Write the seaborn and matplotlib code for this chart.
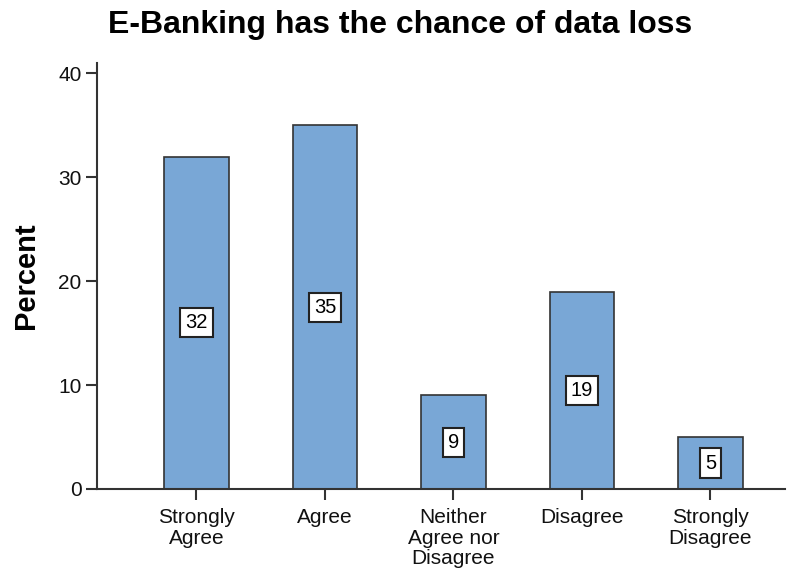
import matplotlib
matplotlib.use("Agg")
import matplotlib.pyplot as plt
import seaborn as sns
import pandas as pd

categories = ["Strongly\nAgree", "Agree", "Neither\nAgree nor\nDisagree", "Disagree", "Strongly\nDisagree"]
percent = [32, 35, 9, 19, 5]
yticks = [0, 10, 20, 30, 40]

sns.set_style("white")
plt.rcParams['font.family'] = ['Liberation Sans', 'DejaVu Sans']
plt.rcParams['text.color'] = 'black'

df = pd.DataFrame({"cat": categories, "pct": percent})

fig = plt.figure(figsize=(7.96, 5.71), dpi=100)
ax = fig.add_axes([97/796, 1 - 489/571, (785 - 97)/796, (489 - 63)/571])
sns.barplot(data=df, x="cat", y="pct", color="#79a7d6", saturation=1,
            width=0.5, edgecolor="#333333", linewidth=1.2, ax=ax)

ax.set_ylim(0, 41)
ax.set_xlim(-0.774, 4.58)
ax.set_yticks(yticks)
ax.set_yticklabels([str(t) for t in yticks], fontsize=15)
ax.tick_params(axis="x", bottom=True, labelsize=15, length=8, width=1.5, color="#333333",
               labelcolor="#111111", direction="out", pad=6)
ax.tick_params(axis="y", left=True, length=8, width=1.5, color="#333333",
               labelcolor="#111111", direction="out", pad=3)
for lab in ax.get_xticklabels():
    lab.set_linespacing(1.1)
ax.set_xlabel("")
ax.set_ylabel("Percent", fontsize=21, fontweight="bold", labelpad=13, color="black")
ax.spines["top"].set_visible(False)
ax.spines["right"].set_visible(False)
for s in ["left", "bottom"]:
    ax.spines[s].set_linewidth(1.5)
    ax.spines[s].set_color("#333333")

for i, v in enumerate(percent):
    ax.text(i, v / 2, str(v), ha="center", va="center", fontsize=14.5, color="black",
            bbox=dict(boxstyle="square,pad=0.25", facecolor="white", edgecolor="#222222", linewidth=1.5))

fig.text(108/796, 1 - 25/571, "E-Banking has the chance of data loss", fontsize=23,
         fontweight="bold", ha="left", va="center", color="black")

fig.savefig("out.png", dpi=100)
